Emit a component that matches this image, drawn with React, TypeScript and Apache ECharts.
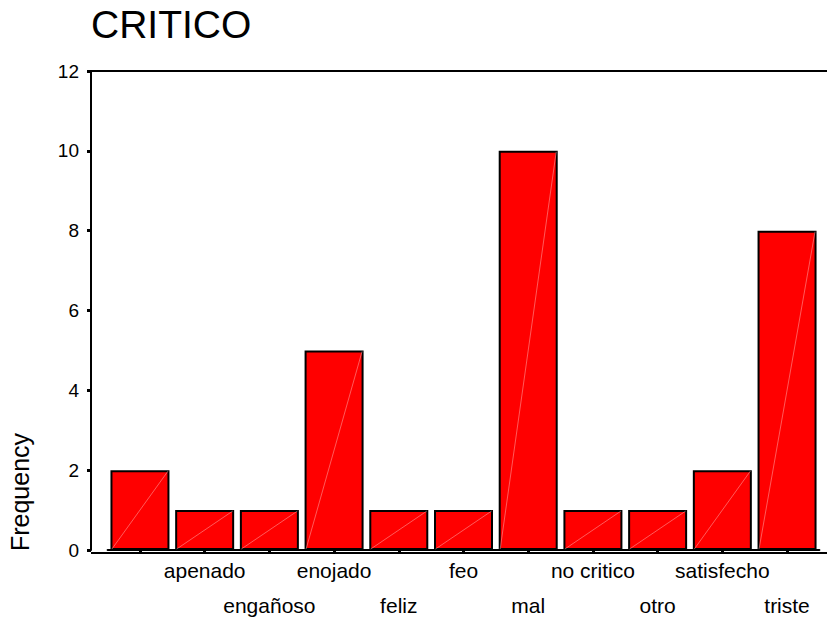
import React, { useEffect, useRef } from "react";
import * as echarts from "echarts";

const titleText = "CRITICO";
const yAxisName = "Frequency";
const categories = ["", "apenado", "engañoso", "enojado", "feliz", "feo", "mal", "no critico", "otro", "satisfecho", "triste"];
const frequencies = [2, 1, 1, 5, 1, 1, 10, 1, 1, 2, 8];
const yTicks = [0, 2, 4, 6, 8, 10, 12];

const FONT = "'Liberation Sans', Arial, sans-serif";

export default function App() {
  const ref = useRef<HTMLDivElement>(null);
  useEffect(() => {
    if (!ref.current) return;
    const chart = echarts.init(ref.current, null, { renderer: "svg" });
    const gridLeft = 107.6;
    const gridRight = 7.6;
    const gridTop = 71;
    const gridBottom = 70;
    chart.setOption({
      animation: false,
      backgroundColor: "#ffffff",
      title: {
        text: titleText,
        left: 91,
        top: 5,
        padding: 0,
        textStyle: { fontFamily: FONT, fontSize: 39, fontWeight: "normal", color: "#000" },
      },
      grid: { left: gridLeft, right: gridRight, top: gridTop, bottom: gridBottom },
      xAxis: {
        type: "category",
        data: categories,
        axisLine: { show: true, lineStyle: { color: "#000", width: 2 } },
        axisTick: { show: true, alignWithLabel: true, length: 3, lineStyle: { color: "#000", width: 3 } },
        axisLabel: {
          interval: 0,
          margin: 3,
          fontFamily: FONT,
          fontSize: 21,
          lineHeight: 35,
          color: "#000",
          formatter: (v: string, i: number) => (i % 2 === 0 ? "\n" + v : v),
        },
        splitLine: { show: false },
      },
      yAxis: {
        type: "value",
        min: yTicks[0],
        max: yTicks[yTicks.length - 1],
        interval: 2,
        offset: 16.6,
        axisLine: { show: true, lineStyle: { color: "#000", width: 2 } },
        axisTick: { show: true, length: 4, lineStyle: { color: "#000", width: 3 } },
        axisLabel: { margin: 12, fontFamily: FONT, fontSize: 19, color: "#000" },
        splitLine: { show: false },
      },
      graphic: [
        {
          type: "line",
          shape: { x1: 91, y1: gridTop, x2: 827, y2: gridTop },
          style: { stroke: "#000", lineWidth: 2 },
        },
        {
          type: "line",
          shape: { x1: 91, y1: 623 - gridBottom, x2: 827, y2: 623 - gridBottom },
          style: { stroke: "#000", lineWidth: 2 },
        },
        {
          type: "text",
          x: 20,
          y: 492,
          rotation: Math.PI / 2,
          style: {
            text: yAxisName,
            fontFamily: FONT,
            fontSize: 25,
            fill: "#000",
            textAlign: "center",
            textVerticalAlign: "middle",
          },
        },
      ],
      series: [
        {
          type: "bar",
          data: frequencies,
          barWidth: 59,
          itemStyle: { color: "#ff0000", borderColor: "#000", borderWidth: 2 },
        },
        {
          type: "custom",
          data: frequencies.map((v, i) => [i, v]),
          z: 5,
          renderItem: (params: any, api: any) => {
            const idx = api.value(0);
            const val = api.value(1);
            const p0 = api.coord([idx, 0]);
            const p1 = api.coord([idx, val]);
            const w = 56;
            return {
              type: "line",
              shape: { x1: p0[0] - w / 2, y1: p0[1] - 1, x2: p1[0] + w / 2, y2: p1[1] + 1 },
              style: { stroke: "rgba(255,190,190,0.8)", lineWidth: 0.6 },
              silent: true,
            };
          },
        },
      ],
    });
    return () => chart.dispose();
  }, []);
  return (
    <div
      ref={ref}
      style={{ position: "fixed", left: 0, top: 0, width: 827, height: 623, background: "#fff" }}
    />
  );
}
